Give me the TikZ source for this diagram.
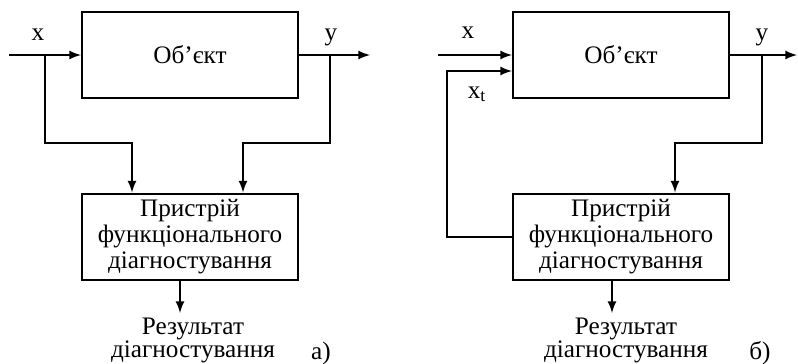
\documentclass[tikz,border=0pt]{standalone}
\usepackage{fontspec}
\setmainfont{Liberation Serif}
\usepackage{tikz}
\usetikzlibrary{arrows,calc}
\tikzset{block/.style={draw, line width=1pt, minimum width=108pt, minimum height=43pt, align=center, inner sep=0pt, font=\fontsize{12.6}{13}\selectfont}}
\tikzset{lbl/.style={inner sep=0pt, anchor=base, font=\fontsize{12.6}{13}\selectfont}}
\tikzset{result/.style={inner sep=0pt, anchor=north, align=center, font=\fontsize{12.6}{11.5}\selectfont}}
\tikzset{signal/.style={line width=1pt, -latex}}
\begin{document}
\begin{tikzpicture}[x=0.5pt,y=-0.5pt]
\useasboundingbox (0,0) rectangle (798,364);
% a) object watched by the diagnostic device
\node (obj1) at (190,55)[block]{Об’єкт};
\node (diag1) at (190,236.5)[block]{Пристрій\\функціонального\\діагностування};
\node (x1) at (38,40)[lbl]{x};
\node (y1) at (331,40)[lbl]{y};
\node (res1) at (193,318)[result]{Результат\\діагностування};
\node (tag1) at (321,359)[lbl]{а)};
\coordinate (in1) at (9,55);
\coordinate (out1) at (370,55);
\coordinate (bx1) at (45,55);
\coordinate (jx1) at (132,143);
\coordinate (by1) at (330,55);
\coordinate (jy1) at (243,143);
\coordinate (r1) at (180,313);
\draw[signal] (in1)--(obj1.west);
\draw[signal] (obj1.east)--(out1);
\draw[signal] (bx1)|-(jx1)--(jx1|-diag1.north);
\draw[signal] (by1)|-(jy1)--(jy1|-diag1.north);
\draw[signal] (r1|-diag1.south)--(r1);
% b) test input x_t fed back by the device
\node (obj2) at (621,55)[block]{Об’єкт};
\node (diag2) at (621,236.5)[block]{Пристрій\\функціонального\\діагностування};
\node (x2) at (468,39)[lbl]{x};
\node (xt2) at (477,98)[lbl]{x\textsubscript{t}};
\node (y2) at (762,40)[lbl]{y};
\node (res2) at (626,318)[result]{Результат\\діагностування};
\node (tag2) at (760,359)[lbl]{б)};
\coordinate (in2) at (438,55);
\coordinate (out2) at (797,55);
\coordinate (fb2) at (447,71);
\coordinate (by2) at (762,55);
\coordinate (jy2) at (675,143);
\coordinate (r2) at (612,313);
\draw[signal] (in2)--(obj2.west);
\draw[signal] (obj2.east)--(out2);
\draw[signal] (diag2.west)-|(fb2)--(fb2-|obj2.west);
\draw[signal] (by2)|-(jy2)--(jy2|-diag2.north);
\draw[signal] (r2|-diag2.south)--(r2);
\end{tikzpicture}
\end{document}
